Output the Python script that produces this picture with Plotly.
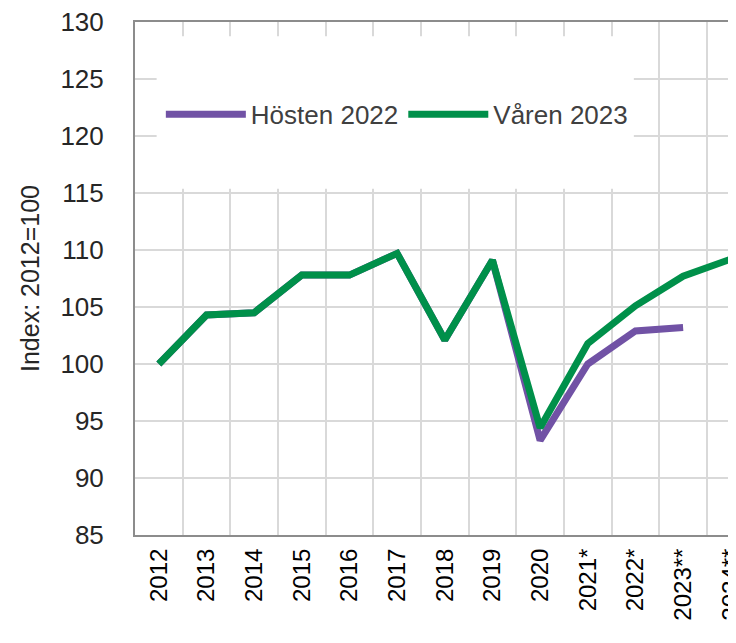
import plotly.graph_objects as go

# category labels on the x axis
years = ["2012", "2013", "2014", "2015", "2016", "2017", "2018", "2019",
         "2020", "2021*", "2022*", "2023**", "2024**"]

# index values, 2012 = 100
hosten_2022 = [100.0, 104.3, 104.5, 107.8, 107.8, 109.7, 102.1, 109.1,
               93.3, 100.0, 102.9, 103.2]
varen_2023 = [100.0, 104.3, 104.5, 107.8, 107.8, 109.7, 102.1, 109.1,
              94.4, 101.8, 105.1, 107.7, 109.2]

y_ticks = list(range(85, 131, 5))

FONT = "Liberation Sans"
GRID = "#d9d9d9"
AXIS = "#8c8c8c"

fig = go.Figure()

fig.add_trace(go.Scatter(
    x=years[:len(hosten_2022)], y=hosten_2022, name="Hösten 2022",
    mode="lines", line=dict(color="#7152a5", width=7),
))
fig.add_trace(go.Scatter(
    x=years, y=varen_2023, name="Våren 2023",
    mode="lines", line=dict(color="#00904a", width=7),
))

# white panel behind the legend, hides the grid there (no data in this area)
fig.add_shape(
    type="rect", xref="paper", yref="paper",
    x0=0.036, x1=0.83, y0=0.675, y1=0.972,
    fillcolor="white", line=dict(width=0), layer="above",
)

# page body has an 8px margin, so the figure is a bit smaller than the window
fig.update_layout(
    width=728, height=635,
    margin=dict(l=127, r=0, t=14, b=108),
    paper_bgcolor="white", plot_bgcolor="white",
    font=dict(family=FONT, size=26, color="#262626"),
    legend=dict(
        orientation="h", x=0.043, y=0.82, xanchor="left", yanchor="middle",
        bgcolor="rgba(0,0,0,0)", font=dict(size=26, color="#404040"),
        itemwidth=80, tracegroupgap=0,
    ),
    xaxis=dict(
        type="category", categoryorder="array", categoryarray=years,
        range=[-0.5, 12.11], tickson="boundaries", automargin=False,
        showgrid=True, gridcolor=GRID, gridwidth=2,
        showline=True, linecolor=AXIS, linewidth=2, mirror=True,
        ticks="", tickangle=-90, ticklabelstandoff=2,
        ticklabeloverflow="allow",
        tickfont=dict(size=24, color="#000000"),
    ),
    yaxis=dict(
        range=[85, 130], tickvals=y_ticks, automargin=False,
        showgrid=True, gridcolor=GRID, gridwidth=2,
        showline=True, linecolor=AXIS, linewidth=2,
        ticks="", ticklabelstandoff=24, zeroline=False,
        ticklabeloverflow="allow",
        tickfont=dict(size=26, color="#262626"),
        title=dict(text="Index: 2012=100", standoff=14,
                   font=dict(size=25, color="#262626")),
    ),
)

fig.write_html("out.html")
